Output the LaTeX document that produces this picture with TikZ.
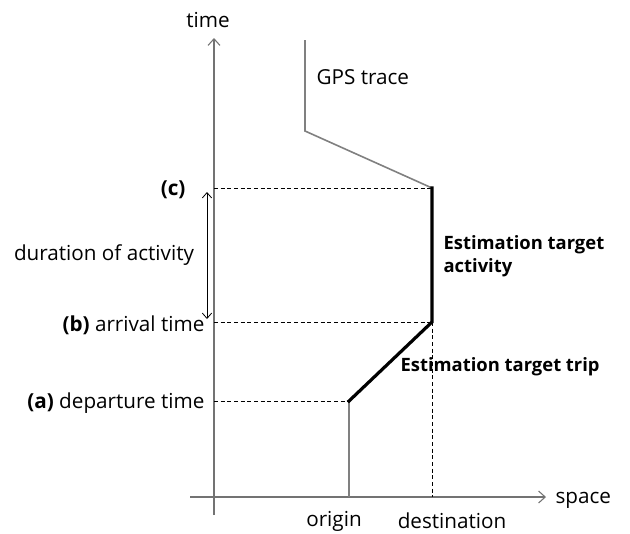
\documentclass[tikz,border=0pt]{standalone}
\usepackage{fontspec}
\setmainfont{Open Sans}
\usetikzlibrary{arrows.meta}

\tikzset{
    axis/.style={draw=gray!90!black, line width=0.8pt, -{Straight Barb[length=5pt,width=9pt]}},
    trace/.style={draw=gray, line width=1.2pt},
    target/.style={draw=black, line width=2.4pt},
    guide/.style={draw=black, line width=0.5pt, dash pattern=on 3pt off 2pt},
    lbl/.style={font=\fontsize{15.5}{18}\selectfont, inner sep=1pt},
    bold lbl/.style={lbl, font=\fontsize{13.8}{17}\selectfont\bfseries}
}

\begin{document}
\begin{tikzpicture}[x=0.75pt, y=-0.75pt]

    % Fix the page size
    \useasboundingbox (0,0) rectangle (630,533);

    % Define coordinates
    % O is where the axes cross
    \coordinate (O) at (214, 497);
    \coordinate (Tend) at (214, 38);
    \coordinate (Tstart) at (214, 515);
    \coordinate (Sstart) at (190, 497);
    \coordinate (Send) at (546, 497);

    % points of the trace
    \coordinate (G0) at (305, 40);
    \coordinate (G1) at (305, 131);
    \coordinate (C) at (432, 188);
    \coordinate (B) at (432, 322);
    \coordinate (A) at (349, 401);
    \coordinate (Org) at (349, 497);
    \coordinate (Dst) at (432, 497);

    % points on the time axis
    \coordinate (Ct) at (214, 188);
    \coordinate (Bt) at (214, 322);
    \coordinate (At) at (214, 401);

    % Draw the axes
    \draw[axis] (Tstart) -- (Tend);
    \draw[axis] (Sstart) -- (Send);

    % Draw the dashed guides
    \draw[guide] (Ct) -- (C);
    \draw[guide] (Bt) -- (B);
    \draw[guide] (At) -- (A);
    \draw[guide] (B) -- (Dst);

    % Draw the GPS trace
    \draw[trace] (G0) -- (G1) -- (C);
    \draw[trace] (A) -- (Org);

    % Draw the estimation targets
    \draw[target, line cap=rect] (C) -- (B) -- (A);

    % Draw the duration arrow
    \coordinate (D1) at (207, 192);
    \coordinate (D2) at (207, 319);
    \draw[line width=0.6pt, {Straight Barb[length=4pt,width=7pt]}-{Straight Barb[length=4pt,width=7pt]}] (D1) -- (D2);

    % Add labels
    \node[lbl] (timelbl) at (208, 20) {time};
    \node[lbl, anchor=west] (spacelbl) at (554, 500) {space};
    \node[lbl] (originlbl) at (334, 521) {origin};
    \node[lbl] (destlbl) at (452, 521) {destination};
    \node[lbl, anchor=west] (gpslbl) at (315, 77) {GPS trace};
    \node[lbl, anchor=east] (clbl) at (187, 190) {\textbf{(c)}};
    \node[lbl] (durlbl) at (104, 255) {duration of activity};
    \node[lbl, anchor=east] (blbl) at (206, 325) {\textbf{(b)} arrival time};
    \node[lbl, anchor=east] (albl) at (206, 403) {\textbf{(a)} departure time};
    \node[bold lbl, anchor=west, align=left] (actlbl) at (442, 256) {Estimation target\\activity};
    \node[bold lbl, anchor=west] (triplbl) at (399, 367) {Estimation target trip};

\end{tikzpicture}
\end{document}
